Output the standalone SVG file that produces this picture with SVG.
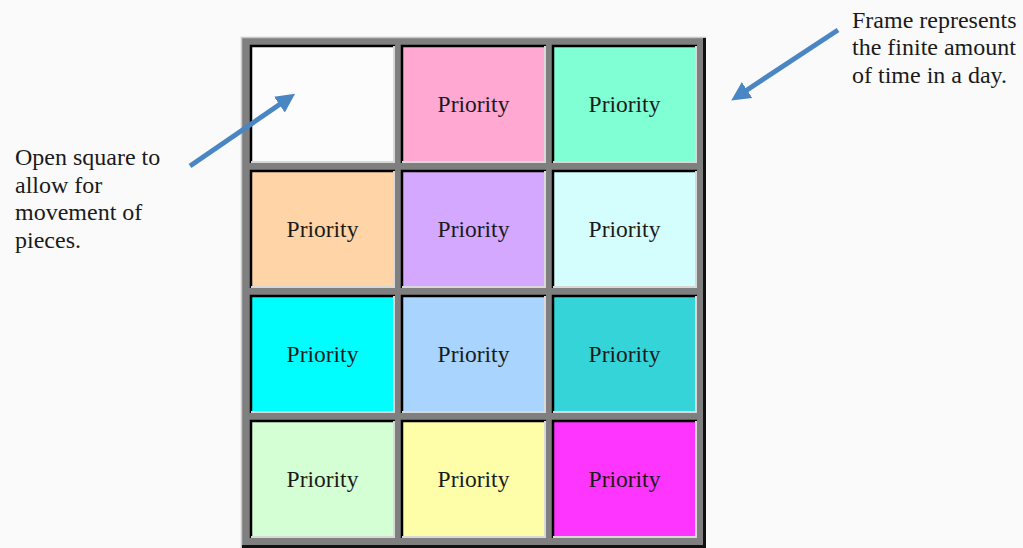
<svg xmlns="http://www.w3.org/2000/svg" width="1023" height="548" viewBox="0 0 1023 548">
<style>
.lbl{font-family:"Liberation Serif","Times New Roman",serif;font-size:23.5px;fill:#1a1a1a}
.note{font-family:"Liberation Serif","Times New Roman",serif;font-size:24px;fill:#1a1a1a}
.sh{fill:none;stroke:#000;stroke-width:2.5}
.hl{fill:none;stroke:#d8d8d8;stroke-width:2}
.arr{fill:none;stroke:#4a86c4;stroke-width:5;marker-end:url(#ah)}
</style>
<defs>
<marker id="ah" viewBox="0 0 10 10" refX="1" refY="5" markerWidth="3.8" markerHeight="4" orient="auto">
<path d="M0,0 L10,5 L0,10 z" fill="#4a86c4"/>
</marker>
</defs>
<rect width="1023" height="548" fill="#fafafa"/>
<g id="frame">
<rect x="241" y="37" width="465" height="511" fill="#7f7f7f"/>
<path d="M241.5,548 V37.5 H706" fill="none" stroke="#c8c8c8" stroke-width="1.5"/>
<path d="M242,546.5 H704.5 V38" fill="none" stroke="#111" stroke-width="3"/>
</g>
<g id="cells">
<g id="c11"><rect x="250" y="45" width="145" height="118" fill="#fcfcfc"/><path class="sh" d="M251,163 V46 H395"/><path class="hl" d="M251,162 H394 V46"/></g>
<g id="c12"><rect x="401" y="45" width="145" height="118" fill="#ffa8d2"/><path class="sh" d="M402,163 V46 H546"/><path class="hl" d="M402,162 H545 V46"/><text class="lbl" x="473.5" y="112" text-anchor="middle">Priority</text></g>
<g id="c13"><rect x="552" y="45" width="145" height="118" fill="#80fed4"/><path class="sh" d="M553,163 V46 H697"/><path class="hl" d="M553,162 H696 V46"/><text class="lbl" x="624.5" y="112" text-anchor="middle">Priority</text></g>
<g id="c21"><rect x="250" y="170" width="145" height="118" fill="#ffd4a6"/><path class="sh" d="M251,288 V171 H395"/><path class="hl" d="M251,287 H394 V171"/><text class="lbl" x="322.5" y="237" text-anchor="middle">Priority</text></g>
<g id="c22"><rect x="401" y="170" width="145" height="118" fill="#d4a8fe"/><path class="sh" d="M402,288 V171 H546"/><path class="hl" d="M402,287 H545 V171"/><text class="lbl" x="473.5" y="237" text-anchor="middle">Priority</text></g>
<g id="c23"><rect x="552" y="170" width="145" height="118" fill="#d4fefe"/><path class="sh" d="M553,288 V171 H697"/><path class="hl" d="M553,287 H696 V171"/><text class="lbl" x="624.5" y="237" text-anchor="middle">Priority</text></g>
<g id="c31"><rect x="250" y="295" width="145" height="118" fill="#00fefe"/><path class="sh" d="M251,413 V296 H395"/><path class="hl" d="M251,412 H394 V296"/><text class="lbl" x="322.5" y="362" text-anchor="middle">Priority</text></g>
<g id="c32"><rect x="401" y="295" width="145" height="118" fill="#a8d4fe"/><path class="sh" d="M402,413 V296 H546"/><path class="hl" d="M402,412 H545 V296"/><text class="lbl" x="473.5" y="362" text-anchor="middle">Priority</text></g>
<g id="c33"><rect x="552" y="295" width="145" height="118" fill="#35d4d8"/><path class="sh" d="M553,413 V296 H697"/><path class="hl" d="M553,412 H696 V296"/><text class="lbl" x="624.5" y="362" text-anchor="middle">Priority</text></g>
<g id="c41"><rect x="250" y="420" width="145" height="118" fill="#d4fed4"/><path class="sh" d="M251,538 V421 H395"/><path class="hl" d="M251,537 H394 V421"/><text class="lbl" x="322.5" y="487" text-anchor="middle">Priority</text></g>
<g id="c42"><rect x="401" y="420" width="145" height="118" fill="#fefea8"/><path class="sh" d="M402,538 V421 H546"/><path class="hl" d="M402,537 H545 V421"/><text class="lbl" x="473.5" y="487" text-anchor="middle">Priority</text></g>
<g id="c43"><rect x="552" y="420" width="145" height="118" fill="#fe35fe"/><path class="sh" d="M553,538 V421 H697"/><path class="hl" d="M553,537 H696 V421"/><text class="lbl" x="624.5" y="487" text-anchor="middle">Priority</text></g>
</g>
<g id="note-left">
<text class="note" x="15" y="165">Open square to</text>
<text class="note" x="15" y="193">allow for</text>
<text class="note" x="15" y="220">movement of</text>
<text class="note" x="15" y="248">pieces.</text>
</g>
<g id="note-right">
<text class="note" x="852" y="28">Frame represents</text>
<text class="note" x="852" y="55">the finite amount</text>
<text class="note" x="852" y="83">of time in a day.</text>
</g>
<g id="connectors">
<path class="arr" d="M190,166 L281,103.5"/>
<path class="arr" d="M838,30 L745.5,91"/>
</g>
</svg>
